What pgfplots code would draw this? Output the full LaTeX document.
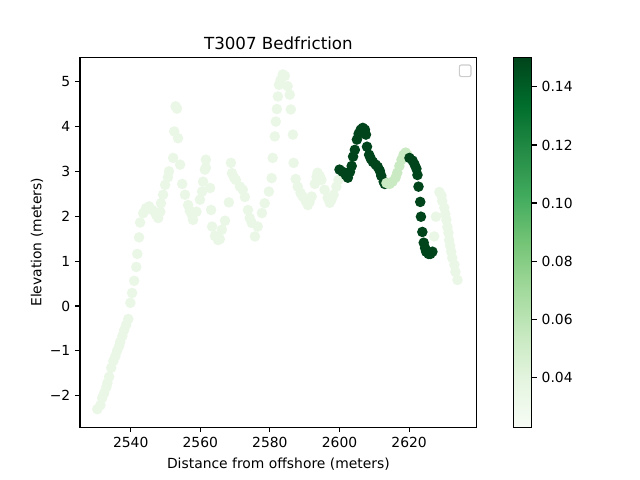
\documentclass[border=0pt]{standalone}
\usepackage{pgfplots}
\pgfplotsset{compat=1.18}
\usepackage{pgfplotstable}
\usepackage{fontspec}
\setmainfont{DejaVu Sans}

\pgfplotsset{
  colormap={greens}{rgb255=(247,252,245) rgb255=(229,245,224) rgb255=(199,233,192) rgb255=(161,217,155) rgb255=(116,196,118) rgb255=(65,171,93) rgb255=(35,139,69) rgb255=(0,109,44) rgb255=(0,68,27)}
}

\pgfplotstableread{
x y c
2530.4 -2.30 0.034
2531.3 -2.21 0.034
2531.8 -2.05 0.034
2532.4 -1.94 0.034
2533.0 -1.81 0.034
2533.3 -1.72 0.034
2533.8 -1.58 0.034
2534.4 -1.38 0.034
2535.0 -1.23 0.034
2535.6 -1.12 0.034
2536.1 -1.00 0.034
2536.7 -0.89 0.034
2537.0 -0.80 0.034
2537.6 -0.67 0.034
2538.1 -0.54 0.034
2538.7 -0.42 0.034
2539.3 -0.29 0.034
2539.9 0.07 0.034
2540.4 0.29 0.034
2541.0 0.56 0.034
2541.6 0.87 0.034
2541.9 1.16 0.034
2542.4 1.53 0.034
2542.7 1.86 0.034
2543.6 2.07 0.034
2544.4 2.18 0.034
2545.3 2.22 0.034
2546.2 2.14 0.034
2547.3 2.03 0.034
2547.9 1.96 0.034
2548.5 2.10 0.034
2548.7 2.29 0.034
2549.3 2.48 0.034
2549.9 2.70 0.034
2550.7 2.87 0.034
2551.0 3.00 0.034
2552.2 3.30 0.034
2552.5 3.89 0.034
2552.9 4.45 0.034
2553.3 4.40 0.034
2553.6 3.74 0.034
2554.2 3.15 0.034
2554.8 2.72 0.034
2555.6 2.48 0.034
2556.5 2.25 0.034
2557.0 2.12 0.034
2557.6 2.03 0.034
2557.9 1.92 0.034
2558.9 2.10 0.034
2559.9 2.37 0.034
2560.5 2.55 0.034
2560.8 2.77 0.034
2561.3 3.04 0.034
2561.6 3.26 0.034
2561.6 3.08 0.034
2562.8 2.63 0.034
2563.1 2.14 0.034
2563.4 1.77 0.034
2564.2 1.56 0.034
2565.1 1.47 0.034
2565.6 1.49 0.034
2566.2 1.70 0.034
2567.1 1.90 0.034
2568.2 2.31 0.034
2568.8 3.19 0.034
2569.1 2.96 0.034
2569.7 2.86 0.034
2570.2 2.81 0.034
2571.4 2.66 0.034
2572.2 2.59 0.034
2572.8 2.43 0.034
2573.7 2.14 0.034
2574.2 1.96 0.034
2574.8 1.85 0.034
2575.7 1.55 0.034
2576.5 1.77 0.034
2577.7 2.07 0.034
2578.5 2.29 0.034
2579.7 2.55 0.034
2580.5 2.85 0.034
2580.8 3.30 0.034
2581.4 3.78 0.034
2581.7 4.11 0.034
2582.0 4.39 0.034
2582.3 4.67 0.034
2582.6 4.93 0.034
2583.1 5.04 0.034
2583.7 5.16 0.034
2584.3 5.13 0.034
2585.1 4.90 0.034
2585.7 4.71 0.034
2586.0 4.38 0.034
2586.6 3.82 0.034
2586.8 3.19 0.034
2587.4 2.83 0.034
2588.0 2.66 0.034
2588.8 2.52 0.034
2589.4 2.44 0.034
2590.3 2.34 0.034
2590.9 2.25 0.034
2591.4 2.32 0.034
2592.0 2.44 0.034
2592.9 2.72 0.034
2593.4 2.88 0.034
2593.7 2.97 0.034
2594.3 2.90 0.034
2594.8 2.81 0.034
2595.7 2.59 0.034
2596.6 2.41 0.034
2597.2 2.30 0.034
2597.7 2.37 0.034
2598.3 2.48 0.034
2599.1 2.66 0.034
2599.7 2.81 0.034
2600.0 3.04 0.150
2600.9 2.99 0.150
2601.8 2.92 0.150
2602.4 2.86 0.150
2603.0 2.99 0.150
2603.5 3.12 0.150
2603.9 3.33 0.150
2604.4 3.48 0.150
2605.0 3.71 0.150
2605.5 3.84 0.150
2606.1 3.93 0.150
2606.7 3.97 0.150
2607.3 3.93 0.150
2607.6 3.82 0.150
2607.9 3.55 0.150
2608.5 3.37 0.150
2609.0 3.28 0.150
2609.6 3.21 0.150
2610.4 3.15 0.150
2611.0 3.10 0.150
2611.6 3.01 0.150
2612.0 2.90 0.150
2612.7 2.77 0.150
2613.0 2.72 0.150
2613.5 2.74 0.053
2614.4 2.72 0.053
2615.2 2.77 0.053
2616.1 2.86 0.053
2616.6 2.97 0.053
2617.2 3.12 0.053
2617.8 3.26 0.053
2618.4 3.37 0.053
2619.0 3.42 0.053
2619.5 3.37 0.053
2620.1 3.30 0.150
2621.0 3.24 0.150
2621.6 3.15 0.150
2622.1 3.06 0.150
2622.4 2.92 0.150
2622.7 2.66 0.150
2623.2 2.32 0.150
2623.4 1.99 0.150
2623.8 1.65 0.150
2624.2 1.41 0.150
2624.6 1.29 0.150
2624.9 1.21 0.150
2625.6 1.16 0.150
2626.1 1.16 0.150
2626.7 1.21 0.150
2628.7 2.54 0.034
2629.3 2.46 0.034
2629.5 2.34 0.034
2630.1 2.19 0.034
2630.4 2.05 0.034
2630.7 1.92 0.034
2631.0 1.76 0.034
2631.3 1.63 0.034
2631.5 1.47 0.034
2631.8 1.34 0.034
2632.1 1.21 0.034
2632.4 1.07 0.034
2633.0 0.92 0.034
2633.3 0.76 0.034
2633.9 0.58 0.034
2627.7 1.99 0.034
2627.2 1.55 0.034
}\datatable

\begin{document}
\begin{tikzpicture}
\useasboundingbox (-57.6pt,-38.02pt) rectangle (403.2pt,307.57pt);
\begin{axis}[
  at={(0,0)}, anchor=south west,
  scale only axis, width=285.7pt, height=266.1pt,
  xmin=2525.43, xmax=2639.45, ymin=-2.702, ymax=5.537,
  xtick={2540,2560,2580,2600,2620},
  xticklabels={2540,2560,2580,2600,2620},
  ytick={-2,-1,0,1,2,3,4,5},
  yticklabels={−2,−1,0,1,2,3,4,5},
  tick align=outside, tick pos=left, major tick length=3.5pt,
  every tick/.style={black, line width=0.8pt},
  axis line style={line width=0.8pt},
  title={\fontsize{12}{14}\selectfont T3007 Bedfriction},
  every axis title shift=0pt,
  title style={at={(axis description cs:0.5,1)}, anchor=base, yshift=6pt, inner sep=0pt},
  xlabel={Distance from offshore (meters)},
  ylabel={Elevation (meters)},
  xlabel style={at={(axis description cs:0.5,-0.0995)}, anchor=center, inner sep=0pt},
  ylabel style={at={(axis description cs:-0.1085,0.5)}, anchor=center, inner sep=0pt},
  colormap name=greens,
  point meta min=0.0228, point meta max=0.1501,
  colorbar,
  colorbar style={
    at={(parent axis.north east)}, anchor=north west, xshift=17.86pt,
    scale only axis, width=13.3pt, height=266.1pt,
    ytick={0.04,0.06,0.08,0.10,0.12,0.14},
    yticklabels={0.04,0.06,0.08,0.10,0.12,0.14},
    tick align=outside, major tick length=3.5pt,
    ytick pos=right, yticklabel pos=right,
    every tick/.style={black, line width=0.8pt},
    axis line style={line width=0.8pt},
  },
]
\addplot[scatter, only marks, mark=*, mark size=3pt, scatter src=explicit,
  mark options={line width=1.5pt},
  scatter/use mapped color={draw=mapped color, fill=mapped color}]
  table[x=x, y=y, meta=c] {\datatable};
\draw[rounded corners=1.5pt, draw=black!20, fill=white, line width=0.8pt]
  ([xshift=-12.6pt,yshift=-13.7pt]rel axis cs:1,1) rectangle ([xshift=-4.2pt,yshift=-5.3pt]rel axis cs:1,1);
\end{axis}
\end{tikzpicture}
\end{document}
